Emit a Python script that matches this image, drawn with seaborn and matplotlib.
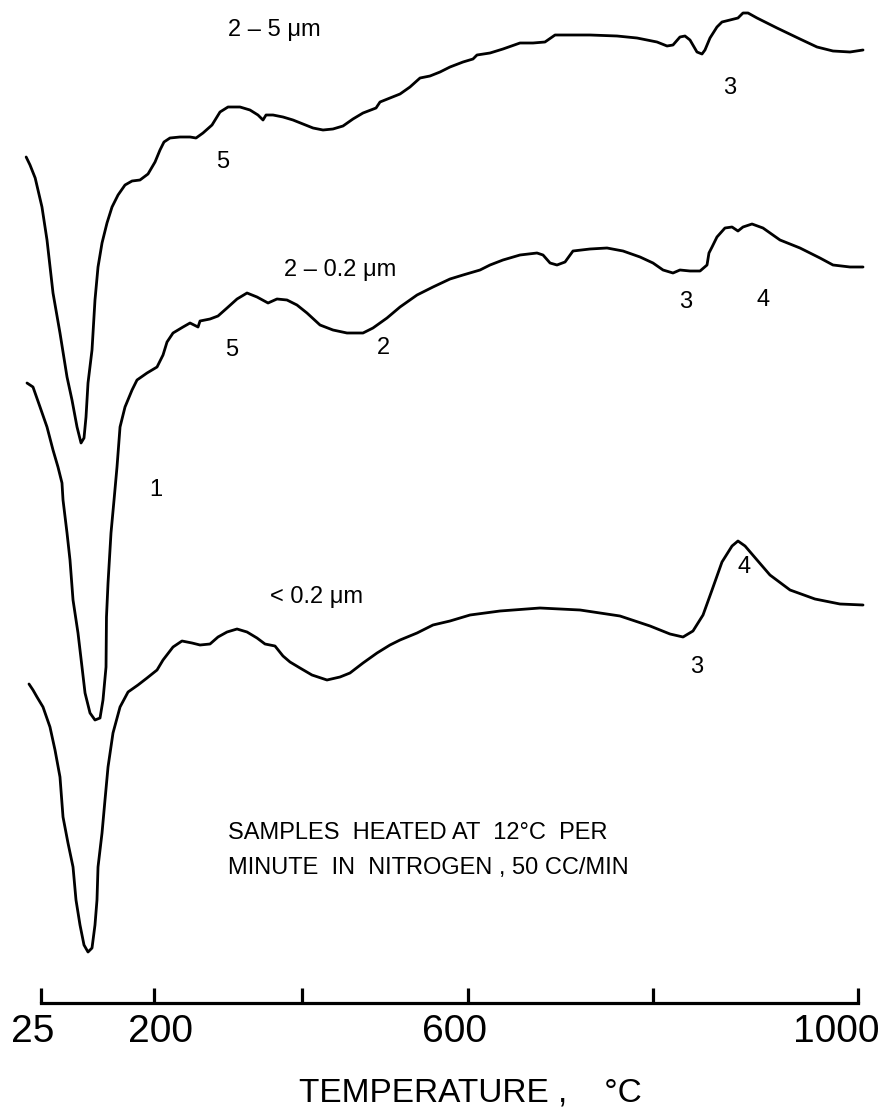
import numpy as np
import pandas as pd
import matplotlib
matplotlib.use("Agg")
import matplotlib.pyplot as plt
import matplotlib.transforms as mtransforms
from matplotlib import font_manager
import seaborn as sns

# ---- temperature axis calibration (chart recorder scale is not linear) ----
scale_temps = [-38.5, 25, 200, 400, 600, 800, 1000, 1023.4]
scale_pos = [0, 41, 154, 302, 468, 653, 858, 882]

tick_temps = [25, 200, 400, 600, 800, 1000]
tick_labels = ["25", "200", "", "600", "", "1000"]

# ---- DTA traces: temperature (°C) and pen deflection (chart rows, downward = endotherm) ----
temp_2_5 = [2, 8, 16, 26.5, 34.3, 43.6, 54.4, 65.3, 73.0, 80.8, 87.0, 91.6, 94.7, 97.8,
            104.0, 108.6, 113.3, 119.5, 127.2, 135.0, 144.3, 155.1, 166.0, 178.3, 190.7,
            201.4, 208.1, 213.5, 221.6, 235.1, 248.7, 256.8, 266.2, 278.4, 289.2, 300.0,
            316.2, 329.7, 340.5, 347.3, 351.4, 360.8, 374.3, 387.8, 401.2, 413.3, 425.3,
            437.3, 449.4, 461.4, 473.5, 489.2, 494.0, 506.0, 518.1, 530.1, 542.2, 554.2,
            566.3, 578.3, 594.0, 605.4, 609.7, 623.8, 637.8, 656.2, 670.3, 683.2, 694.1,
            710.3, 731.9, 761.1, 782.7, 803.9, 813.7, 819.5, 826.3, 831.2, 836.1, 842.9,
            847.8, 850.7, 855.6, 862.4, 867.3, 875.1, 882.9, 887.8, 892.7, 901.5, 921.0,
            943.4, 960.0, 975.6, 992.2, 1004.9]
defl_2_5 = [157, 165, 178, 207, 240, 293, 333, 377, 400, 427, 443, 438, 417, 383,
            350, 300, 267, 243, 223, 207, 195, 185, 181, 180, 174,
            162, 150, 142, 138, 137, 137, 138, 133, 125, 112, 107,
            107, 110, 115, 120, 115, 115, 117, 120, 124, 128, 130,
            129, 126, 119, 113, 108, 102, 98, 94, 87, 78, 76,
            72, 67, 62, 59, 55, 53, 49, 43, 43, 42, 35,
            35, 35, 36, 38, 42, 46, 45, 37, 36, 40, 52,
            54, 50, 38, 27, 22, 20, 18, 13, 13, 18, 28,
            39, 47, 51, 52, 50]

temp_2_02 = [3.3, 12.6, 23.5, 34.3, 43.6, 51.3, 57.5, 59.1, 65.3, 69.9, 74.6, 82.3, 88.5,
             93.2, 100.9, 108.6, 116.4, 121.0, 125.7, 126.4, 128.8, 133.4, 138.1, 142.7,
             147.4, 155.1, 166.0, 173.7, 189.2, 204.1, 212.2, 217.6, 225.7, 239.2, 248.7,
             256.8, 259.5, 262.2, 275.7, 286.5, 298.7, 312.2, 325.7, 339.2, 354.1, 366.2,
             379.7, 393.2, 406.0, 421.7, 437.3, 454.2, 473.5, 485.5, 502.4, 518.1, 538.6,
             557.8, 578.3, 594.0, 613.0, 623.8, 637.8, 656.2, 674.6, 681.1, 688.7, 696.2,
             704.9, 713.5, 731.9, 750.3, 767.6, 786.0, 800.0, 809.8, 819.5, 826.3, 836.1,
             845.9, 852.7, 854.6, 857.6, 862.4, 870.2, 877.1, 882.9, 887.8, 896.6, 907.3,
             923.9, 943.4, 962.9, 975.6, 992.2, 1004.9]
defl_2_02 = [383, 387, 407, 427, 450, 467, 483, 500, 533, 560, 600, 633, 667,
             693, 713, 720, 718, 700, 667, 617, 583, 533, 500, 467,
             427, 407, 390, 380, 373, 367, 355, 342, 333, 327, 323,
             326, 327, 321, 319, 316, 308, 299, 293, 297, 303, 299,
             300, 305, 313, 325, 330, 333, 333, 328, 318, 307, 295,
             287, 279, 275, 270, 265, 260, 255, 253, 255, 263, 265,
             262, 251, 249, 248, 251, 257, 263, 270, 273, 270, 271,
             271, 265, 253, 247, 237, 228, 227, 231, 227, 224, 228,
             240, 248, 258, 265, 267, 267]

temp_lt_02 = [6.4, 12.6, 18.8, 28.1, 38.9, 46.7, 54.4, 59.1, 66.8, 74.6, 79.2, 85.4, 91.6,
              97.8, 104.0, 108.6, 111.7, 113.3, 119.5, 124.1, 128.8, 136.5, 147.4, 159.8,
              175.2, 189.2, 204.1, 212.2, 225.7, 237.8, 251.4, 262.2, 275.7, 286.5, 298.7,
              312.2, 325.7, 339.2, 350.0, 363.5, 374.3, 383.8, 397.3, 412.0, 430.1, 445.8,
              457.8, 473.5, 490.4, 506.0, 518.1, 538.6, 557.8, 578.3, 602.2, 634.6, 677.8,
              721.1, 764.3, 796.8, 816.6, 829.3, 839.0, 848.8, 857.6, 867.3, 877.1, 882.9,
              889.8, 901.5, 914.1, 933.7, 958.0, 982.4, 1004.9]
defl_lt_02 = [684, 690, 697, 707, 727, 750, 777, 817, 843, 867, 900, 925, 945,
              952, 948, 925, 900, 867, 833, 800, 767, 733, 707, 692,
              685, 678, 670, 660, 647, 641, 643, 645, 644, 637, 632,
              629, 632, 638, 644, 646, 656, 662, 668, 675, 680, 677,
              673, 663, 653, 645, 640, 633, 625, 621, 615, 611, 608,
              610, 616, 626, 634, 637, 631, 615, 590, 562, 546, 541,
              546, 560, 575, 590, 599, 604, 605]

sample_names = ["2 – 5 μm", "2 – 0.2 μm", "< 0.2 μm"]

# peak labels: (text, temperature, deflection)
peak_labels = [
    ("5", 293, 162), ("3", 875, 88),
    ("5", 305, 350), ("2", 498, 348), ("3", 832, 302), ("4", 907, 300),
    ("1", 203, 490),
    ("4", 889, 567), ("3", 843, 667),
]
sample_label_pos = [(363, 30), (446, 270), (418, 597)]
note_lines = ["SAMPLES  HEATED AT  12°C  PER",
              "MINUTE  IN  NITROGEN , 50 CC/MIN"]

# ---- figure ----
sns.set_style("white")
available = {f.name for f in font_manager.fontManager.ttflist}
main_font = "Liberation Sans" if "Liberation Sans" in available else "DejaVu Sans"
plt.rcParams["font.family"] = [main_font, "DejaVu Sans"]

fig = plt.figure(figsize=(8.82, 11.16), dpi=100)
ax = fig.add_axes([0, 0, 1, 1])


def fwd(t):
    return np.interp(t, scale_temps, scale_pos)


def inv(p):
    return np.interp(p, scale_pos, scale_temps)


ax.set_xscale("function", functions=(fwd, inv))

frames = []
for name, t, d in zip(sample_names,
                      [temp_2_5, temp_2_02, temp_lt_02],
                      [defl_2_5, defl_2_02, defl_lt_02]):
    frames.append(pd.DataFrame({"temp": t, "defl": d, "sample": name}))
df = pd.concat(frames, ignore_index=True)

sns.lineplot(data=df, x="temp", y="defl", units="sample", estimator=None,
             sort=False, color="black", linewidth=2.0, ax=ax, legend=False)

ax.set_xlim(scale_temps[0], scale_temps[-1])
ax.set_ylim(1116, 0)
ax.set_xlabel("")
ax.set_ylabel("")
ax.set_yticks([])

# temperature axis drawn as a bar with upward ticks
for side in ["top", "left", "right"]:
    ax.spines[side].set_visible(False)
ax.spines["bottom"].set_position(("data", 1003))
ax.spines["bottom"].set_bounds(25, 1000)
ax.spines["bottom"].set_linewidth(2.3)
ax.spines["bottom"].set_color("black")
ax.spines["bottom"].set_capstyle("projecting")
ax.set_xticks(tick_temps)
ax.set_xticklabels(tick_labels)
ax.tick_params(axis="x", bottom=True, direction="in", length=11, width=2.3,
               color="black", labelsize=28, pad=8, labelcolor="black")
label_shift_px = [-8, 6, 0, -13, 0, -22]
for lab, dx in zip(ax.get_xticklabels(), label_shift_px):
    lab.set_transform(lab.get_transform() +
                      mtransforms.ScaledTranslation(dx / 100, 0, fig.dpi_scale_trans))

ax.text(inv(470), 1093, "TEMPERATURE ,    °C", ha="center", va="center",
        fontsize=24, color="black")

for name, (t, d) in zip(sample_names, sample_label_pos):
    ax.text(t, d, name, ha="center", va="center", fontsize=17, color="black")

for txt, t, d in peak_labels:
    ax.text(t, d, txt, ha="center", va="center", fontsize=17, color="black")

for i, line in enumerate(note_lines):
    ax.text(300, 833 + 35 * i, line, ha="left", va="center", fontsize=17,
            color="black")

fig.savefig("out.png", dpi=100, facecolor="white")
